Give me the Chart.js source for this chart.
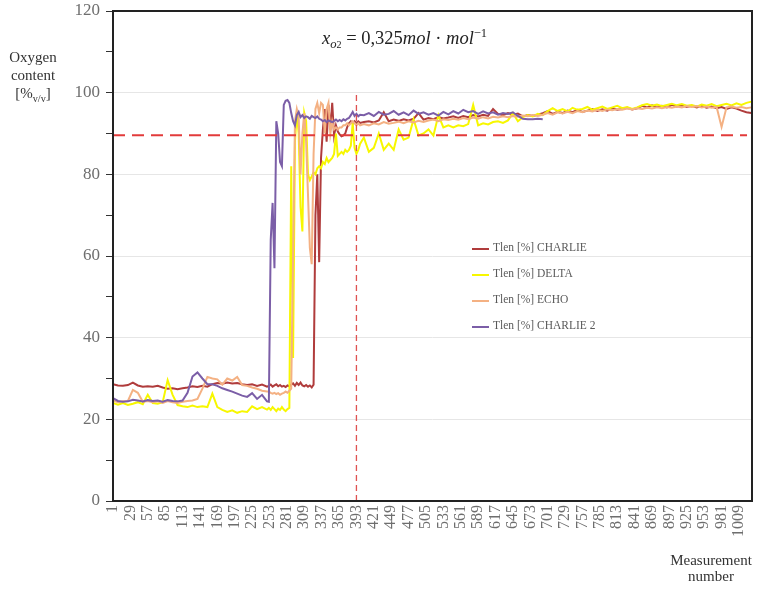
<!DOCTYPE html>
<html>
<head>
<meta charset="utf-8">
<script src="https://cdn.jsdelivr.net/npm/chart.js@4/dist/chart.umd.min.js"></script>
<style>
  html, body { margin: 0; padding: 0; background: #fff; }
  #wrap { position: relative; width: 758px; height: 590px; font-family: "Liberation Serif", serif; }
  #c { position: absolute; left: 0; top: 0; }
  .txt { position: absolute; color: #333; }
  #ytitle { left: 0; top: 48px; width: 66px; text-align: center; font-size: 15px; line-height: 18px; }
  #xtitle { left: 662px; top: 552px; width: 98px; text-align: center; font-size: 15px; line-height: 16px; }
  #formula { left: 322px; top: 26px; font-size: 18.5px; color: #222; white-space: nowrap; }
  .sub { font-size: 68%; vertical-align: -0.35em; }
  .sup { font-size: 68%; vertical-align: 0.55em; }
  #legend { position: absolute; left: 472px; top: 240px; }
  .li { position: relative; height: 26px; font-size: 11.5px; color: #595959; white-space: nowrap; }
  .sw { position: absolute; left: 0; top: 8px; width: 17px; height: 2px; }
  .lt { position: absolute; left: 21px; top: 1px; }
</style>
</head>
<body>
<div id="wrap">
  <canvas id="c" width="758" height="590"></canvas>
  <div id="ytitle" class="txt">Oxygen<br>content<br>[%<span class="sub">v/v</span>]</div>
  <div id="xtitle" class="txt">Measurement<br>number</div>
  <div id="formula" class="txt"><i>x</i><span class="sub"><i>o</i><span style="font-size:80%">2</span></span> = 0,325<i>mol</i> · <i>mol</i><span class="sup">−1</span></div>
  <div id="legend"></div>
</div>
<script>
// measurement numbers at which values were read
const sampleX = [
  1,9,17,25,33,41,49,57,65,73,81,89,97,105,113,121,129,137,145,153,161,169,177,185,193,201,209,217,225,233,241,249,
  252,255,258,261,264,267,270,273,276,279,282,285,288,291,294,297,300,303,306,309,312,315,318,321,324,327,330,333,336,339,342,345,348,351,354,357,360,363,366,369,372,375,378,381,384,387,390,393,396,399,
  405,413,421,429,437,445,453,461,469,477,485,493,501,509,517,525,533,541,549,557,565,573,581,589,597,605,613,621,629,637,645,653,661,669,677,685,693,701,709,717,725,733,741,749,757,765,773,781,789,797,805,813,821,829,837,845,853,861,869,877,885,893,901,909,917,925,933,941,949,957,965,973,981,989,997,1005,1013,1021,1029
];

const charlie = [
  28.6,28.3,28.2,28.4,29.0,28.3,28.0,28.1,28.0,28.2,27.8,27.5,27.6,27.4,27.6,27.8,28.1,27.9,28.2,28.0,28.6,28.9,28.7,29.0,28.8,28.9,28.6,28.4,28.6,28.2,28.5,28.0,
  28.2,28.5,28.0,28.3,28.6,28.1,28.4,28.0,28.2,27.9,28.3,28.1,28.5,28.8,28.2,28.9,28.4,29.0,28.3,28.1,28.4,28.0,28.3,27.8,28.5,
  70.0,80.0,58.5,84.0,91.0,96.0,88.0,97.0,91.0,97.5,89.5,92.0,90.5,89.8,89.3,89.5,90.0,91.5,92.5,93.0,92.4,93.0,92.6,93.0,92.6,
  92.8,93.0,92.7,93.2,95.2,93.0,93.4,93.1,93.5,93.2,93.6,95.0,93.4,93.8,93.5,94.0,93.7,93.9,94.2,93.8,
  94.3,94.0,94.5,94.2,94.6,94.3,96.0,94.8,94.5,95.0,94.6,94.9,94.2,94.5,94.3,94.6,95.0,95.5,94.8,95.3,
  95.0,95.6,95.2,95.8,95.3,95.6,96.0,95.5,95.9,95.6,96.2,95.8,96.0,96.3,95.9,96.2,96.8,96.4,96.9,96.5,
  96.8,96.4,97.0,96.6,96.9,96.5,96.8,96.4,96.7,96.3,96.6,96.2,96.5,96.0,96.4,96.1,95.6,95.2,95.0
];

const delta = [
  24.0,23.6,24.0,23.5,23.8,24.2,23.7,26.0,24.0,23.8,24.2,29.6,26.0,23.5,23.2,23.0,23.4,23.0,23.2,23.0,26.3,23.0,22.3,21.8,22.2,21.6,22.0,21.8,23.2,22.5,23.0,22.4,
  22.8,22.3,23.0,22.5,22.0,22.6,22.3,23.0,22.4,22.0,22.5,22.8,
  82.0,35.0,88.0,95.0,90.0,72.0,66.0,95.0,93.0,80.0,78.6,79.5,80.5,80.0,81.5,82.0,81.5,83.0,82.5,84.0,83.0,83.5,84.0,85.0,90.0,84.5,85.0,85.5,85.0,86.0,85.5,86.0,87.0,92.6,86.5,85.0,86.0,87.5,
  89.0,85.5,86.5,90.0,86.0,87.5,86.0,91.0,88.5,89.0,93.5,89.5,90.0,91.0,89.5,94.5,91.5,92.0,91.5,92.0,
  91.8,92.3,97.0,92.0,92.5,92.2,92.8,93.0,92.6,93.2,95.0,93.0,94.0,94.5,94.2,94.8,94.5,95.5,96.2,95.5,
  96.0,95.4,96.3,95.8,96.0,96.5,95.8,96.2,96.6,96.0,96.4,96.8,96.2,96.5,96.0,96.4,96.9,97.2,96.8,97.1,
  96.7,97.0,97.3,96.9,97.2,96.8,97.0,96.6,97.1,96.8,97.2,96.7,97.0,97.3,96.9,97.4,97.0,97.5,97.8
];

const echo = [
  24.6,24.2,24.4,24.5,27.2,26.5,24.3,24.5,24.2,24.4,24.0,24.5,24.2,24.0,24.3,24.5,24.6,25.0,27.5,30.4,30.0,29.8,28.5,30.0,29.5,30.4,28.4,28.2,27.8,27.5,27.0,26.8,
  26.8,26.5,26.3,26.5,26.2,26.4,26.0,26.3,26.5,26.8,26.5,27.0,27.5,
  60.0,93.0,96.0,94.0,80.0,90.0,95.0,88.0,75.0,62.0,58.0,85.0,96.0,97.5,95.0,97.5,97.0,90.0,96.0,97.5,90.0,93.0,91.0,91.5,91.0,91.5,91.5,92.0,92.0,92.5,92.0,92.5,93.0,92.5,92.0,92.5,92.0,
  92.3,92.0,92.5,92.2,92.8,92.4,92.6,92.9,92.5,93.0,92.7,93.1,92.8,93.2,93.4,93.0,93.5,93.3,93.6,93.4,
  93.8,93.5,93.9,93.6,94.0,93.7,94.1,93.9,94.2,94.0,94.3,94.1,94.4,94.2,94.5,94.3,94.6,95.0,94.6,95.2,
  94.9,95.3,95.0,95.5,95.2,95.6,95.4,95.8,95.5,95.9,95.7,96.0,95.8,96.1,95.9,96.2,96.0,96.3,96.1,96.4,
  96.2,96.5,96.3,96.6,96.4,96.7,96.5,96.7,96.4,96.6,96.3,96.5,91.6,96.4,96.6,96.3,96.5,96.2,96.4
];

const charlie2 = [
  25.2,24.5,24.3,24.4,24.8,24.6,24.4,24.7,24.5,24.6,24.3,24.7,24.5,24.4,24.6,26.5,30.5,31.5,30.0,28.6,28.6,28.2,27.6,27.2,26.8,26.3,25.8,25.5,26.4,25.0,26.0,24.4,
  24.3,64.0,73.0,57.0,93.0,90.0,83.0,82.0,97.0,98.0,98.2,97.5,95.0,93.0,92.0,94.5,95.3,94.0,94.5,93.8,94.2,94.0,93.6,94.3,94.0,93.8,94.2,93.6,93.4,93.0,
  93.3,92.8,93.2,93.0,92.8,93.1,93.4,93.0,93.3,93.0,93.5,93.2,93.6,93.8,94.5,95.3,94.3,94.8,94.2,94.6,
  94.5,95.0,94.3,95.3,94.6,94.8,95.5,94.6,95.2,94.5,95.6,94.8,95.2,94.6,95.0,94.4,95.3,94.7,95.5,94.9,
  95.8,95.2,95.5,94.8,95.4,94.9,95.2,94.6,95.0,94.8,95.2,94.3,93.6,93.5,93.5,93.6,93.5
];

const seriesNames = ['Tlen [%] CHARLIE', 'Tlen [%] DELTA', 'Tlen [%] ECHO', 'Tlen [%] CHARLIE 2'];
const seriesColors = ['#b03c3c', '#f7f700', '#f4b183', '#7b5ea7'];
const xTickLabels = [1,29,57,85,113,141,169,197,225,253,281,309,337,365,393,421,449,477,505,533,561,589,617,645,673,701,729,757,785,813,841,869,897,925,953,981,1009];
const yTickValues = [0,20,40,60,80,100,120];
const thresholdY = 89.6;          // horizontal dashed reference
const thresholdSpanX = [1, 1022];
const markerX = 393;              // vertical dashed reference
const markerSpanY = [0, 99.5];

const pts = ys => ys.map((y, i) => ({ x: sampleX[i], y }));
const seriesData = [charlie, delta, echo, charlie2];

const datasets = seriesData.map((ys, i) => ({
  label: seriesNames[i],
  data: pts(ys),
  borderColor: seriesColors[i],
  borderWidth: 2,
  pointRadius: 0,
  tension: 0,
  fill: false,
  order: 4 - i + 1
}));
datasets.push({
  label: 'threshold',
  data: thresholdSpanX.map(x => ({ x, y: thresholdY })),
  borderColor: '#e23b3b', borderWidth: 2, borderDash: [12, 7], pointRadius: 0, order: 0
});
datasets.push({
  label: 'marker',
  data: markerSpanY.map(y => ({ x: markerX, y })),
  borderColor: '#e05252', borderWidth: 1.3, borderDash: [6, 4], pointRadius: 0, order: 0
});

const frame = {
  id: 'frame',
  afterDraw(chart) {
    const { ctx, chartArea: a } = chart;
    ctx.save();
    ctx.strokeStyle = '#222';
    ctx.lineWidth = 2;
    ctx.strokeRect(a.left, a.top, a.right - a.left, a.bottom - a.top);
    ctx.restore();
  }
};

new Chart(document.getElementById('c'), {
  type: 'line',
  data: { datasets },
  options: {
    responsive: false,
    animation: false,
    devicePixelRatio: 1,
    layout: { padding: { top: 11, right: 6, left: 0, bottom: 0 } },
    plugins: { legend: { display: false }, tooltip: { enabled: false } },
    scales: {
      x: {
        type: 'linear',
        min: 1, max: 1030,
        afterBuildTicks: s => { s.ticks = xTickLabels.map(v => ({ value: v })); },
        afterFit: s => { s.height = 89; s.paddingLeft = 0; s.paddingRight = 0; s.paddingTop = 0; s.paddingBottom = 0; },
        grid: { display: false, drawTicks: false },
        border: { display: false },
        ticks: {
          autoSkip: false, maxRotation: 90, minRotation: 90, padding: 4,
          color: '#6e6e6e', font: { family: 'Liberation Serif', size: 16 },
          callback: v => String(v)
        }
      },
      y: {
        min: 0, max: 120,
        afterFit: s => { s.width = 113; s.paddingLeft = 0; s.paddingRight = 0; s.paddingTop = 0; s.paddingBottom = 0; },
        ticks: {
          stepSize: 10, padding: 6,
          color: '#6e6e6e', font: { family: 'Liberation Serif', size: 17 },
          callback: v => (yTickValues.includes(v) ? String(v) : '')
        },
        grid: {
          color: c => (c.tick && c.tick.value % 20 === 0 && c.tick.value !== 0 && c.tick.value !== 120) ? '#e6e6e6' : 'rgba(0,0,0,0)',
          tickColor: '#333', tickLength: 7, lineWidth: 1
        },
        border: { display: false }
      }
    }
  },
  plugins: [frame]
});

// legend
const lg = document.getElementById('legend');
seriesNames.forEach((n, i) => {
  const d = document.createElement('div');
  d.className = 'li';
  d.innerHTML = '<span class="sw" style="background:' + seriesColors[i] + '"></span><span class="lt">' + n + '</span>';
  lg.appendChild(d);
});
</script>
</body>
</html>
